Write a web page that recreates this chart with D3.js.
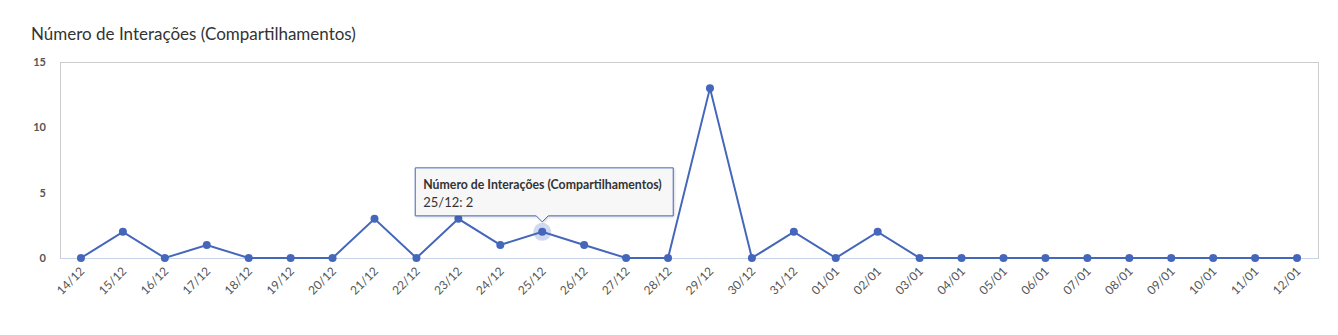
<!DOCTYPE html>
<html>
<head>
<meta charset="utf-8">
<script src="https://cdn.jsdelivr.net/npm/d3@7"></script>
<style>
  body { margin: 0; background: #fff; font-family: Lato, "Open Sans", sans-serif; }
  #chart { width: 1338px; height: 335px; }
</style>
</head>
<body>
<div id="chart"></div>
<script>
var categories = ["14/12","15/12","16/12","17/12","18/12","19/12","20/12","21/12","22/12","23/12",
  "24/12","25/12","26/12","27/12","28/12","29/12","30/12","31/12","01/01","02/01",
  "03/01","04/01","05/01","06/01","07/01","08/01","09/01","10/01","11/01","12/01"];
var values = [0,2,0,1,0,0,0,3,0,3, 1,2,1,0,0,13,0,2,0,2, 0,0,0,0,0,0,0,0,0,0];
var yTicks = [0, 5, 10, 15];
var seriesName = "Número de Interações (Compartilhamentos)";
var hoverIndex = 11;

function lineChart() {
  var self = this;
  var color = "#4466bb";
  var margin = { left: 60, top: 62, right: 20, bottom: 77 };
  var W = 1338, H = 335;
  var w = W - margin.left - margin.right, h = H - margin.top - margin.bottom;

  this.init = function () {
    self.svg = d3.select("#chart").append("svg")
      .attr("width", W).attr("height", H);

    self.svg.append("text")
      .attr("x", 31).attr("y", 40)
      .style("font-size", "17px").style("fill", "#333")
      .text(seriesName);

    self.g = self.svg.append("g")
      .attr("transform", "translate(" + margin.left + "," + margin.top + ")");

    self.x = d3.scalePoint().domain(categories).range([0, w]).padding(0.5);
    self.y = d3.scaleLinear().domain([0, 15]).range([h, 0]);

    self.drawFrame();
    self.drawAxes();
    self.drawLine();
    self.drawTooltip();
  };

  this.drawFrame = function () {
    self.g.append("rect")
      .attr("x", 0.5).attr("y", 0.5)
      .attr("width", w).attr("height", h)
      .style("fill", "none").style("stroke", "#ccc");
  };

  this.drawAxes = function () {
    var yAxis = self.g.append("g")
      .call(d3.axisLeft(self.y).tickValues(yTicks).tickSize(0).tickPadding(14));
    yAxis.select(".domain").remove();
    yAxis.selectAll("text")
      .style("font-family", "Lato, sans-serif")
      .style("font-size", "11px").style("font-weight", "bold").style("fill", "#555");

    var xAxis = self.g.append("g")
      .attr("transform", "translate(0," + h + ")")
      .call(d3.axisBottom(self.x).tickSize(0));
    xAxis.select(".domain").style("stroke", "#c9d4e8");
    xAxis.selectAll("text")
      .style("font-family", "Lato, sans-serif")
      .style("font-size", "12px").style("fill", "#555")
      .style("text-anchor", "end")
      .attr("dx", "-0.6em").attr("dy", "0.8em")
      .attr("transform", "rotate(-45)");
  };

  this.drawLine = function () {
    var line = d3.line()
      .x(function (d, i) { return self.x(categories[i]); })
      .y(function (d) { return self.y(d); });

    self.g.append("circle")
      .attr("cx", self.x(categories[hoverIndex]))
      .attr("cy", self.y(values[hoverIndex]))
      .attr("r", 9)
      .style("fill", color).style("opacity", 0.25);

    self.g.append("path")
      .datum(values)
      .attr("d", line)
      .style("fill", "none").style("stroke", color).style("stroke-width", 2);

    self.g.selectAll(".dot")
      .data(values)
      .enter().append("circle")
      .attr("class", "dot")
      .attr("cx", function (d, i) { return self.x(categories[i]); })
      .attr("cy", function (d) { return self.y(d); })
      .attr("r", 4)
      .style("fill", color);
  };

  // tooltip for the hovered point
  this.drawTooltip = function () {
    var px = self.x(categories[hoverIndex]);
    var py = self.y(values[hoverIndex]);
    var bw = 258, bh = 48;
    var bx = px - 127, by = py - 10 - 6 - bh;
    var tip = self.g.append("g");
    var p = "M" + bx + "," + by + " h" + bw + " v" + bh +
      " H" + (px + 6) + " L" + px + "," + (by + bh + 6) + " L" + (px - 6) + "," + (by + bh) +
      " H" + bx + " Z";
    tip.append("path")
      .attr("d", p)
      .style("fill", "#f7f7f7").style("stroke", color).style("stroke-width", 1)
      .style("filter", "drop-shadow(1px 1px 1px rgba(0,0,0,0.15))");
    tip.append("text")
      .attr("x", bx + 8).attr("y", by + 21)
      .style("font-size", "12.3px").style("font-weight", "bold").style("fill", "#333")
      .text(seriesName);
    tip.append("text")
      .attr("x", bx + 8).attr("y", by + 39)
      .style("font-size", "13px").style("fill", "#333")
      .text(categories[hoverIndex] + ": " + values[hoverIndex]);
  };

  this.init();
}

var chart = new lineChart();
</script>
</body>
</html>
